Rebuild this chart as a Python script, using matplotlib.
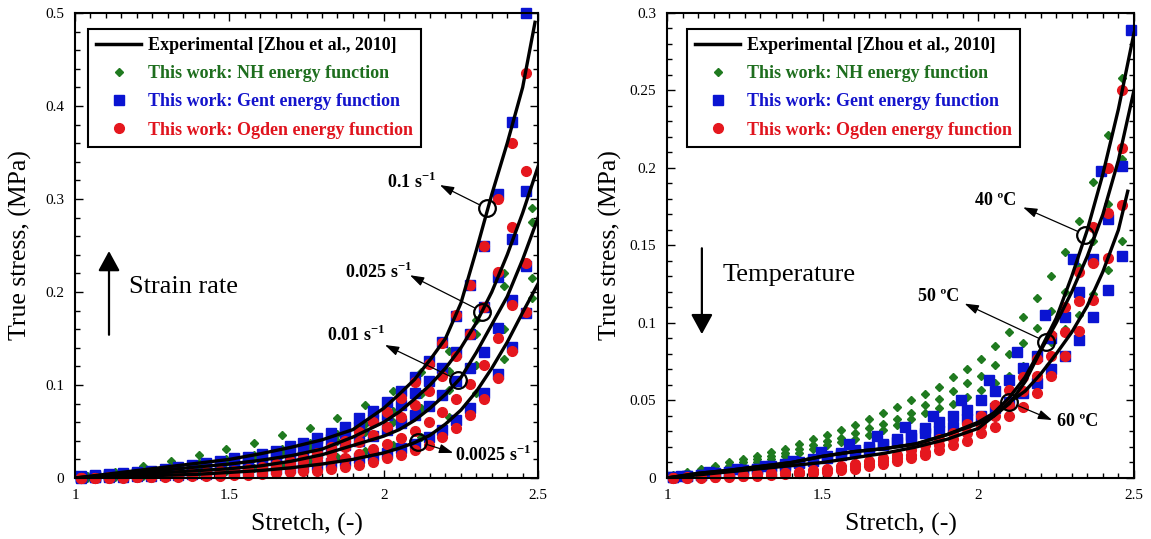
import matplotlib.pyplot as plt
from matplotlib.lines import Line2D
from matplotlib.ticker import MultipleLocator, FormatStrFormatter

plt.rcParams['font.family'] = 'Liberation Serif'
plt.rcParams['mathtext.fontset'] = 'custom'
plt.rcParams['mathtext.rm'] = 'Liberation Serif'
plt.rcParams['mathtext.bf'] = 'Liberation Serif:bold'

# ---------------- data ----------------
# experimental curves
exp_stretch = [1.0, 1.1, 1.2, 1.3, 1.4, 1.5, 1.6, 1.7, 1.8, 1.9, 2.0,
               2.05, 2.1, 2.15, 2.2, 2.25, 2.3, 2.35, 2.4, 2.45, 2.5]
exp_stretch_01 = exp_stretch[:-1] + [2.49]
exp_stretch_60 = exp_stretch[:-1] + [2.48]

exp_01 = [0, .004, .008, .012, .016, .020, .026, .033, .041, .052, .075,
          .090, .106, .127, .150, .188, .245, .305, .360, .420, .490]
exp_0025 = [0, .003, .006, .009, .012, .015, .019, .024, .031, .044, .060,
            .071, .085, .100, .118, .140, .167, .200, .240, .285, .335]
exp_001 = [0, .002, .004, .006, .008, .010, .013, .018, .025, .035, .045,
           .052, .062, .075, .090, .108, .135, .165, .195, .235, .280]
exp_00025 = [0, .001, .002, .003, .004, .006, .008, .011, .015, .020, .027,
             .032, .038, .046, .058, .073, .093, .118, .146, .178, .209]

exp_40 = [0, .003, .005, .0075, .010, .014, .017, .019, .022, .028, .036,
          .042, .052, .065, .083, .103, .130, .160, .196, .238, .287]
exp_50 = [0, .003, .005, .0075, .010, .014, .017, .019, .022, .028, .035,
          .040, .048, .062, .082, .100, .120, .143, .170, .205, .250]
exp_60 = [0, .002, .004, .006, .008, .010, .013, .016, .020, .025, .032,
          .040, .049, .056, .067, .080, .094, .111, .133, .160, .185]

# model points
model_stretch = [1.02, 1.065, 1.11, 1.155, 1.20, 1.245, 1.29, 1.335, 1.38,
                 1.425, 1.47, 1.515, 1.56, 1.605, 1.65, 1.695, 1.74, 1.785,
                 1.83, 1.875, 1.92, 1.965, 2.01, 2.055, 2.10, 2.145, 2.19,
                 2.235, 2.28, 2.325, 2.37, 2.415, 2.46]
nh_stretch_left = [1.04, 1.13, 1.22, 1.31, 1.40, 1.49, 1.58, 1.67, 1.76,
                   1.85, 1.94, 2.03, 2.12, 2.21, 2.30, 2.39, 2.48]
gent_stretch_40 = [1.045, 1.135, 1.225, 1.315, 1.405, 1.495, 1.585, 1.675,
                   1.765, 1.855, 1.945, 2.035, 2.125, 2.215, 2.305, 2.395, 2.49]

nh_01 = [.0025, .0068, .013, .018, .025, .031, .038, .046, .054, .065, .078,
         .093, .114, .137, .170, .220, .290]
nh_0025 = [.002, .005, .009, .012, .016, .020, .025, .031, .038, .047, .058,
           .072, .090, .115, .155, .206, .275]
nh_001 = [.001, .004, .007, .010, .013, .017, .021, .026, .032, .040, .049,
          .060, .075, .095, .122, .160, .215]
nh_00025 = [.0005, .001, .002, .004, .006, .008, .011, .014, .018, .023, .029,
            .036, .044, .066, .091, .128, .193]

gent_01 = [.002, .003, .004, .005, .006, .008, .010, .012, .014, .016, .018,
           .021, .023, .026, .029, .034, .038, .043, .048, .055, .064, .072,
           .082, .094, .109, .126, .146, .174, .207, .249, .305, .383, .500]
gent_0025 = [.001, .002, .003, .004, .005, .006, .007, .009, .010, .012, .014,
             .016, .018, .021, .024, .028, .032, .037, .042, .048, .055, .062,
             .068, .078, .091, .104, .118, .136, .155, .184, .216, .257, .309]
gent_001 = [.001, .0015, .002, .003, .004, .005, .006, .007, .008, .009, .010,
            .012, .014, .016, .018, .021, .024, .027, .031, .035, .040, .045,
            .052, .059, .068, .077, .089, .104, .118, .136, .161, .191, .228]
gent_00025 = [.0005, .0008, .001, .0015, .002, .0025, .003, .0035, .004, .0045,
              .005, .006, .007, .008, .0095, .011, .012, .014, .016, .018, .021,
              .024, .027, .032, .037, .044, .052, .062, .075, .091, .112, .141, .177]

ogden_01 = [0, .0005, .001, .001, .002, .002, .003, .004, .005, .006, .007,
            .008, .010, .012, .015, .018, .022, .027, .033, .040, .049, .060,
            .071, .086, .103, .123, .145, .175, .207, .249, .300, .360, .436]
ogden_0025 = [0, .0004, .0007, .001, .0015, .002, .0025, .003, .004, .005, .006,
              .007, .008, .010, .012, .015, .018, .022, .027, .033, .039, .046,
              .055, .066, .078, .093, .110, .131, .155, .184, .222, .270, .330]
ogden_001 = [0, .0003, .0005, .0008, .001, .0015, .002, .0025, .003, .0035, .004,
             .005, .006, .008, .009, .011, .013, .016, .019, .022, .026, .031,
             .037, .043, .050, .060, .071, .085, .101, .122, .150, .186, .231]
ogden_00025 = [0, .0002, .0003, .0005, .0007, .0009, .0011, .0014, .0017, .002,
               .0025, .003, .0035, .004, .005, .006, .007, .008, .010, .012, .014,
               .017, .021, .025, .030, .036, .044, .054, .068, .085, .107, .137, .179]

nh_40 = [.002, .004, .006, .008, .010, .012, .014, .017, .019, .022, .025,
         .028, .031, .034, .038, .042, .046, .050, .054, .059, .065, .070,
         .077, .085, .094, .104, .116, .130, .146, .166, .191, .221, .258]
nh_50 = [.001, .003, .0045, .006, .008, .010, .012, .014, .016, .019, .021,
         .024, .026, .029, .032, .035, .038, .042, .047, .051, .056, .061,
         .066, .073, .080, .087, .097, .108, .120, .136, .153, .177, .206]
nh_60 = [.001, .002, .004, .005, .007, .008, .010, .012, .014, .016, .019,
         .021, .023, .025, .028, .031, .034, .038, .042, .045, .048, .052,
         .057, .061, .066, .072, .079, .088, .096, .105, .119, .134, .153]

gent_40 = [.001, .004, .006, .008, .011, .017, .022, .027, .033, .040, .050,
           .063, .081, .105, .141, .198, .289]
gent_50 = [.0005, .001, .002, .003, .004, .005, .006, .008, .009, .010, .012,
           .014, .016, .018, .020, .022, .025, .028, .032, .036, .040, .044,
           .050, .056, .063, .071, .079, .090, .104, .120, .141, .167, .201]
gent_60 = [.0005, .001, .002, .003, .004, .005, .006, .007, .008, .0095, .011,
           .013, .015, .017, .019, .021, .023, .026, .029, .030, .033, .038,
           .040, .045, .049, .055, .061, .070, .079, .089, .104, .121, .143]

ogden_40 = [.0002, .0005, .0008, .001, .0015, .002, .0025, .003, .0035, .004,
            .005, .006, .0075, .009, .011, .013, .015, .018, .021, .025, .029,
            .035, .040, .047, .057, .065, .077, .092, .110, .133, .162, .200, .250]
ogden_50 = [.0001, .0003, .0005, .0008, .001, .0015, .002, .0025, .003, .0035,
            .004, .005, .006, .0075, .009, .011, .013, .015, .017, .021, .025,
            .029, .034, .040, .047, .056, .066, .079, .094, .114, .139, .171, .213]
ogden_60 = [0, .0002, .0003, .0005, .0008, .001, .0015, .002, .0025, .003,
            .0035, .004, .005, .006, .0075, .009, .011, .013, .015, .018, .021,
            .024, .029, .033, .040, .046, .055, .066, .079, .095, .115, .142, .176]

# annotations: circle position, arrow tip, label position, label
rate_notes = [((2.333, 0.290), (2.182, 0.315), (2.09, 0.318), r'0.1 s$^{\mathbf{-1}}$'),
              ((2.318, 0.179), (2.085, 0.218), (1.983, 0.222), r'0.025 s$^{\mathbf{-1}}$'),
              ((2.242, 0.105), (2.004, 0.143), (1.909, 0.154), r'0.01 s$^{\mathbf{-1}}$'),
              ((2.112, 0.039), (2.225, 0.027), (2.355, 0.025), r'0.0025 s$^{\mathbf{-1}}$')]
temp_notes = [((2.343, 0.157), (2.144, 0.1746), (2.056, 0.179), '40 ºC'),
              ((2.217, 0.088), (1.956, 0.1125), (1.872, 0.1168), '50 ºC'),
              ((2.100, 0.049), (2.237, 0.0374), (2.319, 0.0363), '60 ºC')]

green = '#1F7A1F'
blue = '#0A14D2'
red = '#E5171E'
text_green = '#1E6E1E'
text_blue = '#1414CC'
text_red = '#E0141E'

fig = plt.figure(figsize=(11.51, 5.39), dpi=100)
ax1 = fig.add_axes([0.0652, 0.1132, 0.4023, 0.8627])
ax2 = fig.add_axes([0.5795, 0.1132, 0.4057, 0.8627])


def draw_models(ax, nh_x, nh_sets, gent_sets, ogden_sets):
    for x, y in zip(nh_x, nh_sets):
        ax.plot(x, y, 'D', color=green, ms=4.5, mec=green, zorder=2, clip_on=False)
    for x, y in gent_sets:
        ax.plot(x, y, 's', color=blue, ms=6.5, mec=blue, zorder=2, clip_on=False)
    for y in ogden_sets:
        ax.plot(model_stretch, y, 'o', color=red, ms=7, mec=red, zorder=2.5, clip_on=False)


def draw_notes(ax, notes):
    for circ, tip, lab, txt in notes:
        ax.plot(*circ, 'o', mfc='none', mec='k', ms=12, mew=1.6, zorder=4)
        ax.annotate('', xy=tip, xytext=circ,
                    arrowprops=dict(arrowstyle='-|>,head_length=0.6,head_width=0.2',
                                    color='k', lw=0.9, shrinkA=6, shrinkB=0,
                                    mutation_scale=14), zorder=4)
        ax.text(lab[0], lab[1], txt, fontsize=13, fontweight='bold',
                ha='center', va='center', zorder=5)


def style_axes(ax, ymax, ymaj, ymin):
    ax.set_xlim(1, 2.5)
    ax.set_ylim(0, ymax)
    ax.xaxis.set_major_locator(MultipleLocator(0.5))
    ax.xaxis.set_minor_locator(MultipleLocator(0.05))
    ax.yaxis.set_major_locator(MultipleLocator(ymaj))
    ax.yaxis.set_minor_locator(MultipleLocator(ymin))
    ax.xaxis.set_major_formatter(FormatStrFormatter('%g'))
    ax.yaxis.set_major_formatter(FormatStrFormatter('%g'))
    ax.tick_params(which='both', direction='in', top=True, right=True,
                   labelsize=11, width=1, pad=8)
    ax.tick_params(which='major', length=6)
    ax.tick_params(which='minor', length=3.5)
    for sp in ax.spines.values():
        sp.set_linewidth(1.5)
    ax.set_xlabel('Stretch, (-)', fontsize=18.5)
    ax.set_ylabel('True stress, (MPa)', fontsize=18.5)
    ax.xaxis.set_label_coords(0.5, -0.075)
    ax.xaxis.label.set_va('top')


def add_legend(ax, anchor):
    handles = [Line2D([], [], color='k', lw=2.5),
               Line2D([], [], ls='none', marker='D', color=green, ms=4.5),
               Line2D([], [], ls='none', marker='s', color=blue, ms=6.5),
               Line2D([], [], ls='none', marker='o', color=red, ms=7)]
    labels = ['Experimental [Zhou et al., 2010]', 'This work: NH energy function',
              'This work: Gent energy function', 'This work: Ogden energy function']
    leg = ax.legend(handles, labels, loc='upper left', bbox_to_anchor=anchor,
                    borderaxespad=0, fancybox=False, framealpha=1,
                    edgecolor='k', handlelength=2.5, handletextpad=0.35,
                    labelspacing=0.62, borderpad=0.45,
                    prop={'size': 13, 'weight': 'bold'})
    leg.get_frame().set_linewidth(1.5)
    for t, c in zip(leg.get_texts(), ['k', text_green, text_blue, text_red]):
        t.set_color(c)
    leg.set_zorder(10)


# ---------------- left: strain rate ----------------
draw_models(ax1, [nh_stretch_left] * 4, [nh_01, nh_0025, nh_001, nh_00025],
            [(model_stretch, gent_01), (model_stretch, gent_0025),
             (model_stretch, gent_001), (model_stretch, gent_00025)],
            [ogden_01, ogden_0025, ogden_001, ogden_00025])
ax1.plot(exp_stretch_01, exp_01, color='k', lw=2.4, zorder=3)
for y in [exp_0025, exp_001, exp_00025]:
    ax1.plot(exp_stretch, y, color='k', lw=2.4, zorder=3)
draw_notes(ax1, rate_notes)
ax1.annotate('', xy=(1.11, 0.247), xytext=(1.11, 0.151),
             arrowprops=dict(arrowstyle='-|>,head_length=0.55,head_width=0.3',
                             color='k', lw=1.6, mutation_scale=22))
ax1.text(1.175, 0.205, 'Strain rate', fontsize=19, va='center', ha='left')
style_axes(ax1, 0.5, 0.1, 0.02)
ax1.yaxis.set_label_coords(-0.092, 0.5)
add_legend(ax1, (0.028, 0.966))

# ---------------- right: temperature ----------------
draw_models(ax2, [model_stretch] * 3, [nh_40, nh_50, nh_60],
            [(gent_stretch_40, gent_40), (model_stretch, gent_50),
             (model_stretch, gent_60)],
            [ogden_40, ogden_50, ogden_60])
ax2.plot(exp_stretch, exp_40, color='k', lw=2.4, zorder=3)
ax2.plot(exp_stretch, exp_50, color='k', lw=2.4, zorder=3)
ax2.plot(exp_stretch_60, exp_60, color='k', lw=2.4, zorder=3)
draw_notes(ax2, temp_notes)
ax2.annotate('', xy=(1.112, 0.091), xytext=(1.112, 0.150),
             arrowprops=dict(arrowstyle='-|>,head_length=0.55,head_width=0.3',
                             color='k', lw=1.6, mutation_scale=22))
ax2.text(1.18, 0.131, 'Temperature', fontsize=19, va='center', ha='left')
style_axes(ax2, 0.3, 0.05, 0.01)
ax2.yaxis.set_label_coords(-0.096, 0.5)
add_legend(ax2, (0.043, 0.966))

fig.savefig('out.png', dpi=100)
